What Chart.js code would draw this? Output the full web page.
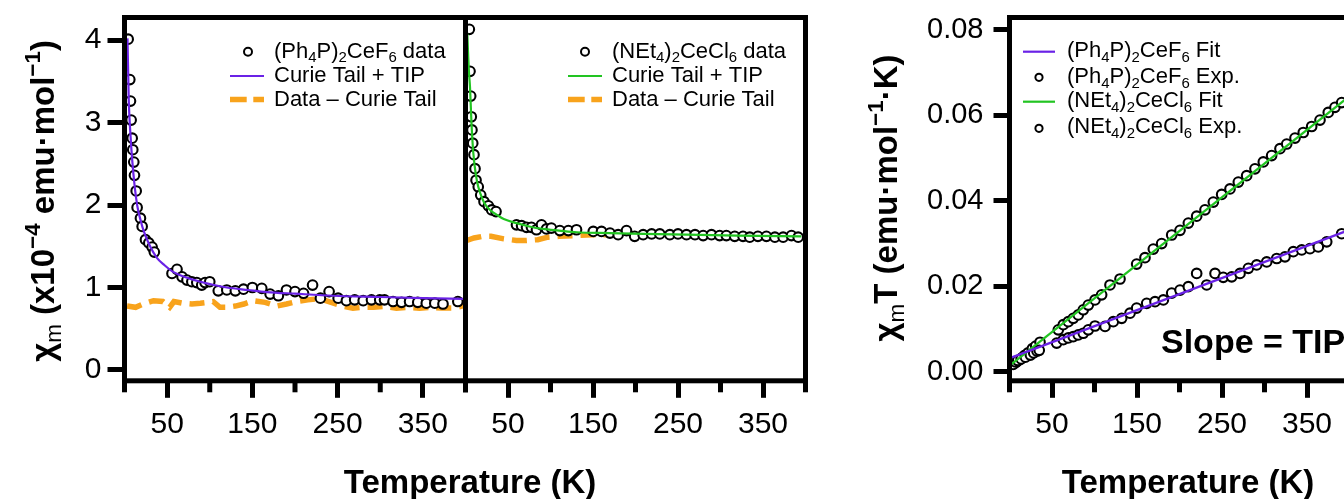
<!DOCTYPE html>
<html><head><meta charset="utf-8">
<script src="https://cdn.jsdelivr.net/npm/chart.js@4.4.1/dist/chart.umd.min.js"></script>
<style>
html,body{margin:0;padding:0;background:#fff;overflow:hidden}
#wrap{position:relative;width:1344px;height:499px;overflow:hidden;background:#fff}
canvas{position:absolute;left:0;top:0}
</style></head><body>
<div id="wrap">
<canvas id="c1" width="1360" height="499"></canvas>
<canvas id="c2" width="1360" height="499"></canvas>
<canvas id="c3" width="1360" height="499"></canvas>
</div>
<script>
// ---------- DATA ----------
// Panel 1: (Ph4P)2CeF6, chi_m (x10^-4 emu/mol) vs T (K)
const d1T = [4.3, 6.2, 7, 7.8, 9, 9.7, 10.9, 11.7, 13.7, 14.8, 18.7, 20.7, 24.6, 28.5, 32.4, 35, 55.7, 61.6, 67.5, 73.3, 79, 84.8, 90.6, 94.5, 100, 110, 120, 130, 139.6, 150, 161, 170.8, 180.5, 190, 200, 210, 220.6, 229.8, 240, 250.6, 260.3, 270, 280, 289.7, 299.4, 305, 315, 325, 334.4, 344, 354, 364, 373.6, 391];
const d1V = [4.01, 3.52, 3.26, 3.03, 2.81, 2.67, 2.52, 2.36, 2.17, 1.97, 1.84, 1.74, 1.58, 1.54, 1.49, 1.43, 1.17, 1.22, 1.13, 1.09, 1.07, 1.06, 1.03, 1.06, 1.07, 0.96, 0.97, 0.96, 0.98, 1.0, 0.99, 0.92, 0.90, 0.97, 0.95, 0.93, 1.03, 0.87, 0.95, 0.87, 0.84, 0.85, 0.84, 0.85, 0.85, 0.85, 0.83, 0.82, 0.83, 0.82, 0.81, 0.81, 0.80, 0.83];
const fit1T = [3.5, 5, 7, 9, 12, 15, 19, 23, 30, 38, 47, 57, 70, 89, 105, 120, 145, 167, 200, 245, 300, 350, 398];
const fit1V = [4.02, 3.27, 2.85, 2.55, 2.22, 1.99, 1.81, 1.67, 1.5, 1.36, 1.27, 1.19, 1.13, 1.07, 1.03, 1.0, 0.97, 0.945, 0.925, 0.9, 0.885, 0.872, 0.862];
const dash1T = [3, 13, 22, 34, 45, 53, 58, 68, 79, 89, 97, 104, 112, 120, 130, 140, 151, 165, 178.6, 190, 202, 215, 229, 245, 258, 268, 280, 292, 305, 319, 332, 346, 360, 372, 385, 398];
const dash1V = [0.775, 0.76, 0.80, 0.84, 0.83, 0.76, 0.83, 0.81, 0.80, 0.81, 0.82, 0.83, 0.76, 0.76, 0.775, 0.80, 0.84, 0.82, 0.775, 0.80, 0.83, 0.85, 0.865, 0.81, 0.77, 0.75, 0.76, 0.76, 0.77, 0.75, 0.76, 0.75, 0.76, 0.75, 0.75, 0.78];

// Panel 2: (NEt4)2CeCl6
const d2T = [4.5, 5.3, 6.1, 6.8, 7.6, 8.5, 10, 11.2, 12.4, 15, 17.9, 21.8, 26.9, 30.8, 35.9, 60, 66, 71.8, 77.6, 83.5, 89.4, 95.3, 101, 111, 121, 130.6, 150.3, 160, 170, 179.6, 189.4, 199, 209, 219, 228.6, 240.4, 250, 260, 270, 279.6, 289.4, 299, 306.9, 316.7, 326.5, 334.4, 344, 354, 364, 373.7, 383.5, 391.4];
const d2V = [4.13, 3.62, 3.32, 3.07, 2.91, 2.75, 2.61, 2.44, 2.30, 2.22, 2.12, 2.04, 1.99, 1.94, 1.92, 1.76, 1.75, 1.73, 1.73, 1.70, 1.76, 1.71, 1.72, 1.69, 1.69, 1.70, 1.68, 1.68, 1.66, 1.64, 1.69, 1.62, 1.64, 1.65, 1.65, 1.64, 1.65, 1.64, 1.64, 1.63, 1.64, 1.63, 1.63, 1.62, 1.62, 1.61, 1.62, 1.62, 1.61, 1.61, 1.63, 1.61];
const fit2T = [2.1, 3, 4, 5.3, 7, 9.2, 12, 15, 20, 25, 30, 37, 45, 60, 75, 91, 110, 131, 170, 210, 260, 320, 395];
const fit2V = [4.08, 3.85, 3.62, 3.43, 3.0, 2.63, 2.38, 2.22, 2.07, 1.98, 1.93, 1.88, 1.83, 1.78, 1.74, 1.71, 1.69, 1.67, 1.66, 1.65, 1.64, 1.63, 1.62];
const dash2T = [1.5, 10, 20, 30, 45, 60, 72, 85, 97, 110, 130, 150, 175, 190, 200, 225, 250, 275, 300, 325, 350, 375, 395];
const dash2V = [1.57, 1.6, 1.62, 1.62, 1.59, 1.57, 1.57, 1.58, 1.61, 1.62, 1.63, 1.64, 1.64, 1.67, 1.64, 1.65, 1.64, 1.64, 1.63, 1.63, 1.62, 1.62, 1.61];

// Panel 3: chi_m*T (emu K/mol) vs T
const d3pT = [4.3, 7, 9.7, 13.7, 18.7, 24.6, 28.5, 32.4, 35, 55.5, 63.3, 69.2, 75, 80.9, 86.8, 92.7, 100.6, 112.4, 122.1, 132, 141.8, 149.6, 161.4, 171.2, 181, 190.8, 200.6, 210.4, 220.2, 232, 241.8, 251.5, 261.4, 271.2, 281, 290.8, 302.6, 314.4, 324.1, 333.9, 343.8, 353.5, 363.3, 373.2, 390.8];
const d3pV = [0.0017, 0.0023, 0.0026, 0.003, 0.0034, 0.0039, 0.0044, 0.0048, 0.005, 0.0067, 0.0075, 0.0079, 0.0082, 0.0086, 0.009, 0.0098, 0.0107, 0.0106, 0.0117, 0.0125, 0.0137, 0.0149, 0.016, 0.0164, 0.0168, 0.0184, 0.0191, 0.0199, 0.023, 0.0203, 0.023, 0.0221, 0.0222, 0.023, 0.0242, 0.025, 0.0257, 0.0265, 0.0269, 0.0281, 0.0285, 0.0288, 0.0292, 0.0304, 0.0323];
const d3gT = [4.5, 7.6, 10, 12.4, 15, 17.9, 21.8, 26.9, 30.8, 35.9, 57.4, 63.3, 69.2, 75, 80.9, 86.8, 92.7, 100.6, 108.4, 118.2, 130, 149.6, 159.4, 169.2, 179, 190.8, 200.6, 210.4, 220.2, 230, 239.8, 249.6, 259.4, 269.2, 279, 288.8, 298.6, 308.4, 318.2, 326.1, 335.9, 345.6, 355.5, 365.3, 375, 382.9, 390.8];
const d3gV = [0.0019, 0.0022, 0.0026, 0.0029, 0.0033, 0.0038, 0.0044, 0.0054, 0.006, 0.0069, 0.0098, 0.011, 0.0117, 0.0125, 0.0133, 0.0145, 0.0156, 0.0168, 0.018, 0.0203, 0.0217, 0.0252, 0.0267, 0.0287, 0.03, 0.032, 0.0331, 0.0348, 0.0364, 0.0379, 0.0397, 0.0415, 0.0428, 0.0444, 0.0459, 0.0475, 0.0491, 0.0506, 0.0522, 0.0533, 0.0547, 0.056, 0.0574, 0.0589, 0.0607, 0.0619, 0.063];
const fit3pT = [2, 400];
const fit3pV = [0.0033, 0.0332];
const fit3gT = [2, 400];
const fit3gV = [0.0017, 0.0645];

// Ticks
const xMajorTicks = [50, 150, 250, 350];
const xTickLabels = ['50', '150', '250', '350'];
const xMinorTicks = [0, 100, 200, 300, 400];
const y1Ticks = [0, 1, 2, 3, 4];
const y1TickLabels = ['0', '1', '2', '3', '4'];
const y3Ticks = [0, 0.02, 0.04, 0.06, 0.08];
const y3TickLabels = ['0.00', '0.02', '0.04', '0.06', '0.08'];

// Texts  (kind: 0 normal, 1 subscript, 2 superscript)
const leg1Labels = [
  [['(Ph',0],['4',1],['P)',0],['2',1],['CeF',0],['6',1],[' data',0]],
  [['Curie Tail + TIP',0]],
  [['Data \u2013 Curie Tail',0]]
];
const leg2Labels = [
  [['(NEt',0],['4',1],[')',0],['2',1],['CeCl',0],['6',1],[' data',0]],
  [['Curie Tail + TIP',0]],
  [['Data \u2013 Curie Tail',0]]
];
const leg3Labels = [
  [['(Ph',0],['4',1],['P)',0],['2',1],['CeF',0],['6',1],[' Fit',0]],
  [['(Ph',0],['4',1],['P)',0],['2',1],['CeF',0],['6',1],[' Exp.',0]],
  [['(NEt',0],['4',1],[')',0],['2',1],['CeCl',0],['6',1],[' Fit',0]],
  [['(NEt',0],['4',1],[')',0],['2',1],['CeCl',0],['6',1],[' Exp.',0]]
];
const yTitle1 = [['\u03c7',0],['m',1,'normal'],[' (x10',0],['\u22124',2],[' emu\u00b7mol',0],['\u22121',2],[')',0]];
const yTitle3 = [['\u03c7',0],['m',1,'normal'],['T (emu\u00b7mol',0],['\u22121',2],['\u00b7K)',0]];
const xTitle = 'Temperature (K)';
const slopeText = 'Slope = TIP';

// ---------- STYLE ----------
const FONT = '"Liberation Sans", Arial, Helvetica, sans-serif';
const PURPLE = '#6a22e6';
const GREEN = '#22c422';
const ORANGE = '#f8a31c';
const H = 499, W = 1360;
const TOP = 17.5, BOTTOM = 380.8;

const toXY = (xs, ys) => xs.map((x, i) => ({x: x, y: ys[i]}));

function drawRich(ctx, parts, x, y, size, bold, align) {
  const segs = parts.map(p => {
    const kind = p[1];
    const s = kind === 0 ? size : size * 0.68;
    const w = p[2] !== undefined ? p[2] : (bold ? 'bold' : 'normal');
    const font = w + ' ' + s + 'px ' + FONT;
    ctx.font = font;
    return {t: p[0], font: font, w: ctx.measureText(p[0]).width,
            dy: kind === 1 ? size * 0.22 : (kind === 2 ? -size * 0.42 : 0)};
  });
  const total = segs.reduce((a, s) => a + s.w, 0);
  let cx = align === 'center' ? x - total / 2 : (align === 'right' ? x - total : x);
  ctx.textBaseline = 'alphabetic';
  ctx.textAlign = 'left';
  ctx.fillStyle = '#000';
  segs.forEach(s => { ctx.font = s.font; ctx.fillText(s.t, cx, y + s.dy); cx += s.w; });
  return total;
}

// fixed scale sizes so that the plot areas land where the reference has them
function fixFit(size) {
  return function (s) {
    if (s.isHorizontal()) s.height = size; else s.width = size;
    s.paddingLeft = 0; s.paddingRight = 0; s.paddingTop = 0; s.paddingBottom = 0;
  };
}

function xAxis() {
  return {
    type: 'linear', min: 0, max: 400,
    afterBuildTicks: s => { s.ticks = xMajorTicks.map(v => ({value: v})); },
    afterFit: fixFit(H - BOTTOM),
    border: {display: false},
    grid: {display: true, drawOnChartArea: false, drawTicks: true, tickLength: 17, tickWidth: 5, tickColor: '#000'},
    ticks: {autoSkip: false, maxRotation: 0, minRotation: 0, padding: 9, color: '#000',
            font: {family: FONT, size: 30},
            callback: (v, i) => xTickLabels[i]}
  };
}

function frameAndMinor(chart) {
  const ctx = chart.ctx, a = chart.chartArea, xs = chart.scales.x;
  ctx.save();
  ctx.strokeStyle = '#000';
  ctx.lineWidth = 5;
  ctx.lineCap = 'butt';
  ctx.setLineDash([]);
  ctx.strokeRect(a.left, a.top, a.right - a.left, a.bottom - a.top);
  xMinorTicks.forEach(v => {
    const px = xs.getPixelForValue(v);
    ctx.beginPath(); ctx.moveTo(px, a.bottom); ctx.lineTo(px, a.bottom + 11.5); ctx.stroke();
  });
  ctx.restore();
}

function legendCircle(ctx, x, y, r) {
  ctx.beginPath(); ctx.arc(x, y, r, 0, Math.PI * 2);
  ctx.fillStyle = '#fff'; ctx.fill();
  ctx.lineWidth = 2; ctx.strokeStyle = '#000'; ctx.stroke();
}
function legendLine(ctx, x1, x2, y, color, width, dash) {
  ctx.beginPath(); ctx.setLineDash(dash || []);
  ctx.moveTo(x1, y); ctx.lineTo(x2, y);
  ctx.strokeStyle = color; ctx.lineWidth = width; ctx.lineCap = 'butt'; ctx.stroke();
  ctx.setLineDash([]);
}

function drawXTitle(ctx, cx) {
  ctx.save();
  ctx.font = 'bold 33px ' + FONT;
  ctx.fillStyle = '#000'; ctx.textAlign = 'center'; ctx.textBaseline = 'alphabetic';
  ctx.fillText(xTitle, cx, 493);
  ctx.restore();
}
function drawYTitle(ctx, parts, bx, cy) {
  ctx.save();
  ctx.translate(bx, cy);
  ctx.rotate(-Math.PI / 2);
  drawRich(ctx, parts, 0, 0, 33, true, 'center');
  ctx.restore();
}

function baseOptions(left, right, yScale) {
  return {
    responsive: false, animation: false, events: [],
    layout: {padding: {left: left, right: W - right, top: TOP, bottom: 0}},
    plugins: {legend: {display: false}, tooltip: {enabled: false}, title: {display: false}},
    scales: {x: xAxis(), y: yScale}
  };
}

const circleStyle = {showLine: false, pointRadius: 4.8, pointBorderWidth: 2.1, pointBorderColor: '#000', pointBackgroundColor: '#fff'};

// ---------- CHART 1 ----------
new Chart(document.getElementById('c1'), {
  type: 'scatter',
  data: {datasets: [
    {label: 'Curie Tail + TIP', data: toXY(fit1T, fit1V), showLine: true, borderColor: PURPLE, borderWidth: 2.2, pointRadius: 0, cubicInterpolationMode: 'monotone'},
    Object.assign({label: '(Ph\u2084P)\u2082CeF\u2086 data', data: toXY(d1T, d1V)}, circleStyle),
    {label: 'Data \u2013 Curie Tail', data: toXY(dash1T, dash1V), showLine: true, borderColor: ORANGE, borderWidth: 5.5, borderDash: [15, 8], pointRadius: 0}
  ]},
  options: baseOptions(0, 465.5, {
    type: 'linear', min: -0.131, max: 4.273,
    afterBuildTicks: s => { s.ticks = y1Ticks.map(v => ({value: v})); },
    afterFit: fixFit(124.5),
    border: {display: false},
    grid: {display: true, drawOnChartArea: false, drawTicks: true, tickLength: 17, tickWidth: 5, tickColor: '#000'},
    ticks: {autoSkip: false, padding: 6, color: '#000', font: {family: FONT, size: 30}, callback: (v, i) => y1TickLabels[i]}
  }),
  plugins: [{id: 'deco1', afterDraw(chart) {
    const ctx = chart.ctx;
    frameAndMinor(chart);
    ctx.save();
    legendCircle(ctx, 248, 51.7, 4);
    legendLine(ctx, 230, 264, 76, PURPLE, 2.2);
    legendLine(ctx, 230, 264, 99.5, ORANGE, 5.5, [16.7, 6.6]);
    drawRich(ctx, leg1Labels[0], 274, 57.5, 22, false, 'left');
    drawRich(ctx, leg1Labels[1], 274, 81.5, 22, false, 'left');
    drawRich(ctx, leg1Labels[2], 274, 105.5, 22, false, 'left');
    ctx.restore();
    drawYTitle(ctx, yTitle1, 53.5, 201);
    drawXTitle(ctx, 470);
  }}]
});

// ---------- CHART 2 ----------
new Chart(document.getElementById('c2'), {
  type: 'scatter',
  data: {datasets: [
    {label: 'Curie Tail + TIP', data: toXY(fit2T, fit2V), showLine: true, borderColor: GREEN, borderWidth: 2.2, pointRadius: 0, cubicInterpolationMode: 'monotone'},
    Object.assign({label: '(NEt\u2084)\u2082CeCl\u2086 data', data: toXY(d2T, d2V)}, circleStyle),
    {label: 'Data \u2013 Curie Tail', data: toXY(dash2T, dash2V), showLine: true, borderColor: ORANGE, borderWidth: 5.5, borderDash: [15, 8], pointRadius: 0}
  ]},
  options: baseOptions(465.5, 805.5, {type: 'linear', min: -0.131, max: 4.273, display: false}),
  plugins: [{id: 'deco2', afterDraw(chart) {
    const ctx = chart.ctx;
    frameAndMinor(chart);
    ctx.save();
    legendCircle(ctx, 585, 51.7, 4);
    legendLine(ctx, 568, 602, 76, GREEN, 2.2);
    legendLine(ctx, 568, 602, 99.5, ORANGE, 5.5, [16.7, 6.6]);
    drawRich(ctx, leg2Labels[0], 612, 57.5, 22, false, 'left');
    drawRich(ctx, leg2Labels[1], 612, 81.5, 22, false, 'left');
    drawRich(ctx, leg2Labels[2], 612, 105.5, 22, false, 'left');
    ctx.restore();
  }}]
});

// ---------- CHART 3 ----------
new Chart(document.getElementById('c3'), {
  type: 'scatter',
  data: {datasets: [
    {label: '(Ph\u2084P)\u2082CeF\u2086 Fit', data: toXY(fit3pT, fit3pV), showLine: true, borderColor: PURPLE, borderWidth: 2.2, pointRadius: 0},
    {label: '(NEt\u2084)\u2082CeCl\u2086 Fit', data: toXY(fit3gT, fit3gV), showLine: true, borderColor: GREEN, borderWidth: 2.2, pointRadius: 0},
    Object.assign({label: '(Ph\u2084P)\u2082CeF\u2086 Exp.', data: toXY(d3pT, d3pV)}, circleStyle),
    Object.assign({label: '(NEt\u2084)\u2082CeCl\u2086 Exp.', data: toXY(d3gT, d3gV)}, circleStyle)
  ]},
  options: baseOptions(0, 1349.5, {
    type: 'linear', min: -0.00213, max: 0.08292,
    afterBuildTicks: s => { s.ticks = y3Ticks.map(v => ({value: v})); },
    afterFit: fixFit(1009.5),
    border: {display: false},
    grid: {display: true, drawOnChartArea: false, drawTicks: true, tickLength: 16, tickWidth: 5, tickColor: '#000'},
    ticks: {autoSkip: false, padding: 10, color: '#000', font: {family: FONT, size: 29}, callback: (v, i) => y3TickLabels[i]}
  }),
  plugins: [{id: 'deco3', afterDraw(chart) {
    const ctx = chart.ctx;
    frameAndMinor(chart);
    ctx.save();
    legendLine(ctx, 1023, 1055, 51.7, PURPLE, 2.2);
    legendCircle(ctx, 1039, 77.3, 3.6);
    legendLine(ctx, 1023, 1055, 101.7, GREEN, 2.2);
    legendCircle(ctx, 1039, 128.3, 3.6);
    drawRich(ctx, leg3Labels[0], 1067, 56.7, 22, false, 'left');
    drawRich(ctx, leg3Labels[1], 1067, 82.7, 22, false, 'left');
    drawRich(ctx, leg3Labels[2], 1067, 107.3, 22, false, 'left');
    drawRich(ctx, leg3Labels[3], 1067, 133.3, 22, false, 'left');
    ctx.font = 'bold 34px ' + FONT;
    ctx.fillStyle = '#000'; ctx.textAlign = 'left'; ctx.textBaseline = 'alphabetic';
    ctx.fillText(slopeText, 1161, 353);
    ctx.restore();
    drawYTitle(ctx, yTitle3, 897, 198);
    drawXTitle(ctx, 1188);
  }}]
});
</script>
</body></html>
